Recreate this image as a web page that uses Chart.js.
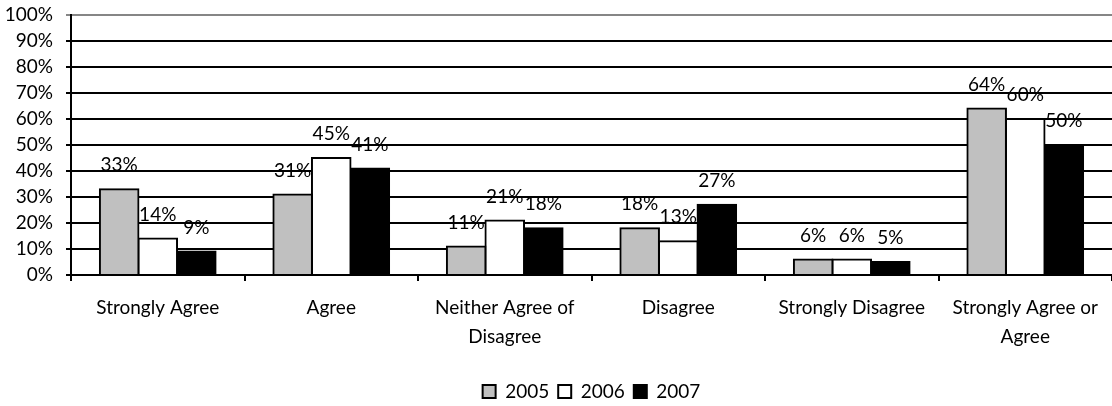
<!DOCTYPE html>
<html lang="en">
  <head>
    <meta charset="UTF-8" />
    <title>Survey Responses 2005-2007</title>
    <script src="https://cdn.jsdelivr.net/npm/chart.js"></script>
    <style>
      html, body {
        margin: 0;
        padding: 0;
        background: #fff;
      }
      .wrap {
        width: 1112px;
        height: 406px;
        position: relative;
      }
    </style>
  </head>
  <body>
    <div class="wrap">
      <canvas id="surveyChart"></canvas>
    </div>

    <script>
      // data
      const categories = [
        "Strongly Agree",
        "Agree",
        ["Neither Agree of", "Disagree"],
        "Disagree",
        "Strongly Disagree",
        ["Strongly Agree or", "Agree"],
      ];
      const years = ["2005", "2006", "2007"];
      const values2005 = [33, 31, 11, 18, 6, 64];
      const values2006 = [14, 45, 21, 13, 6, 60];
      const values2007 = [9, 41, 18, 27, 5, 50];

      const fills = ["#c0c0c0", "#ffffff", "#000000"];

      // draws the % labels over each bar
      const barLabels = {
        id: "barLabels",
        afterDatasetsDraw(chart) {
          const ctx = chart.ctx;
          ctx.save();
          ctx.font = "19px Lato";
          ctx.fillStyle = "#000";
          ctx.textAlign = "center";
          ctx.textBaseline = "middle";
          chart.data.datasets.forEach((ds, i) => {
            chart.getDatasetMeta(i).data.forEach((bar, j) => {
              ctx.fillText(ds.data[j] + "%", bar.x, bar.y - 24);
            });
          });
          ctx.restore();
        },
      };

      Chart.defaults.font.family = "Lato";
      Chart.defaults.font.size = 19;
      Chart.defaults.color = "#000";

      new Chart(document.getElementById("surveyChart"), {
        type: "bar",
        data: {
          labels: categories,
          datasets: [values2005, values2006, values2007].map((vals, i) => ({
            label: years[i],
            data: vals,
            backgroundColor: fills[i],
            borderColor: "#000",
            borderWidth: 2,
            inflateAmount: 1,
            categoryPercentage: 0.667,
            barPercentage: 1,
          })),
        },
        options: {
          responsive: true,
          maintainAspectRatio: false,
          animation: false,
          layout: { padding: { top: 15, right: 0, bottom: -5, left: 0 } },
          plugins: {
            tooltip: { enabled: false },
            legend: {
              position: "bottom",
              fullSize: false,
              labels: {
                boxWidth: 13,
                boxHeight: 13,
                padding: 9,
                font: { size: 19 },
                generateLabels(chart) {
                  return chart.data.datasets.map((ds, i) => ({
                    text: ds.label,
                    fillStyle: ds.backgroundColor,
                    strokeStyle: "#000",
                    lineWidth: 2,
                    datasetIndex: i,
                  }));
                },
              },
            },
          },
          scales: {
            x: {
              grid: {
                offset: true,
                drawOnChartArea: false,
                drawTicks: true,
                tickLength: 6,
                color: "#000",
                lineWidth: 2,
              },
              border: { color: "#000", width: 2 },
              ticks: {
                maxRotation: 0,
                autoSkip: false,
                padding: 12,
                font: { size: 19, lineHeight: "29px" },
              },
              afterFit(scale) {
                // axis sits at y=275, legend below
                scale.height = 98;
              },
            },
            y: {
              min: 0,
              max: 100,
              grid: {
                color: (c) => (c.tick && c.tick.value === 100 ? "#868686" : "#000"),
                lineWidth: 2,
                tickLength: 5,
              },
              border: { color: "#000", width: 2 },
              ticks: {
                stepSize: 10,
                autoSkip: false,
                padding: 13,
                font: { size: 19 },
                callback: (v) => v + "%",
              },
              afterFit(scale) {
                scale.width = 71;
                scale.paddingTop = 0;
                scale.paddingBottom = 0;
              },
            },
          },
        },
        plugins: [barLabels],
      });
    </script>
  </body>
</html>
